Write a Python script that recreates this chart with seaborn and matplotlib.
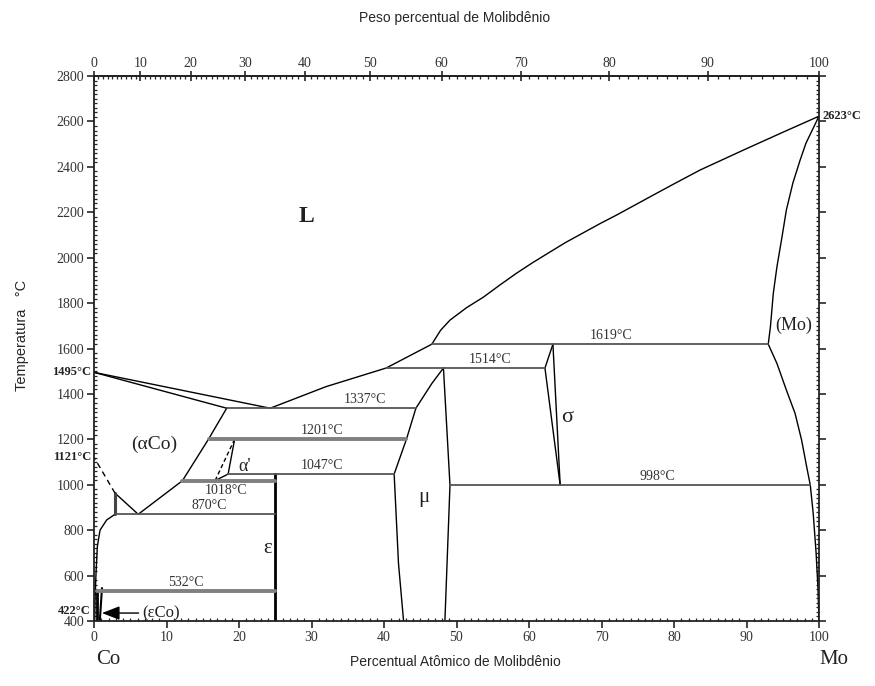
import matplotlib
matplotlib.use("Agg")
import matplotlib.pyplot as plt
import numpy as np
import pandas as pd
import seaborn as sns
from matplotlib.ticker import MultipleLocator

# Atomic masses used for the weight-percent scale on the top axis
M_CO, M_MO = 58.933, 95.95

# ---- phase boundaries (x: atomic % Mo, t: temperature in °C) ----
liq_co_x = [0, 24.3]
liq_co_t = [1495, 1337]
sol_aco_x = [0, 18.3]
sol_aco_t = [1495, 1337]
liq_mo_x = [24.3, 32.0, 40.3, 46.6, 47.8, 49.1, 51.4, 53.7, 56.0, 58.3, 60.5,
            62.9, 65.0, 67.4, 69.8, 72.1, 74.4, 76.7, 80.0, 83.6, 90.0, 95.0, 100]
liq_mo_t = [1337, 1432, 1514, 1619, 1680, 1725, 1780, 1826, 1880, 1932, 1978,
            2025, 2066, 2108, 2150, 2188, 2228, 2268, 2325, 2386, 2480, 2552, 2623]
sol_mo_x = [100, 98.2, 97.4, 96.4, 95.5, 94.9, 94.2, 93.7, 93.3, 93.0]
sol_mo_t = [2623, 2504, 2430, 2329, 2210, 2092, 1960, 1844, 1696, 1619]
solv_mo_x = [93.0, 94.2, 95.5, 96.7, 97.6, 98.3, 98.8, 99.2, 99.6, 99.85, 100]
solv_mo_t = [1619, 1534, 1417, 1314, 1197, 1079, 998, 874, 700, 550, 400]

sigma_top_x = [62.2, 63.3]
sigma_top_t = [1514, 1619]
sigma_right_x = [63.3, 64.3]
sigma_right_t = [1619, 998]
sigma_left_x = [62.2, 64.3]
sigma_left_t = [1514, 998]

mu_left_x = [48.2, 46.6, 44.4, 43.1, 41.4, 42.0, 42.7]
mu_left_t = [1514, 1446, 1337, 1201, 1047, 653, 400]
mu_right_x = [48.2, 49.1, 48.4]
mu_right_t = [1514, 998, 400]

eps_x = [25.0, 25.0]
eps_t = [1047, 400]

aco_x = [18.3, 15.8, 12.2, 6.1, 2.9]
aco_t = [1337, 1201, 1018, 870, 963]
aco_step_x = [2.9, 2.9]
aco_step_t = [963, 870]
curie_x = [2.9, 0]
curie_t = [963, 1121]

alpha_p_x = [19.4, 18.5, 16.7]
alpha_p_t = [1201, 1047, 1018]
alpha_p_left_x = [19.4, 16.7]
alpha_p_left_t = [1201, 1018]

eco_x = [2.9, 1.75, 0.83, 0.46, 0.28, 0.15, 0.1]
eco_t = [870, 845, 800, 727, 611, 500, 400]
eco_a_x = [0.4, 0.4]
eco_a_t = [532, 400]
eco_b_x = [1.1, 0.8]
eco_b_t = [545, 400]

# ---- invariant isotherms ----
iso_t = [1619, 1514, 1337, 1201, 1047, 1018, 998, 870, 532]
iso_x0 = [46.6, 40.3, 18.3, 15.8, 18.5, 12.2, 49.1, 2.9, 0.4]
iso_x1 = [93.0, 62.2, 44.4, 43.1, 41.4, 25.0, 98.8, 25.0, 25.0]
iso_lbl_x = [71.3, 54.6, 37.4, 31.4, 31.4, 18.2, 77.7, 15.9, 12.7]
iso_lbl_below = [False, False, False, False, False, True, False, False, False]
iso_thick = [False, False, False, True, False, True, False, False, True]

# ---- phase field names ----
phase_names = ["L", "(αCo)", "α'", "ε", "μ", "σ", "(Mo)"]
phase_x = [29.3, 8.3, 20.8, 24.0, 45.5, 65.2, 96.5]
phase_t = [2180, 1180, 1080, 720, 945, 1295, 1700]
phase_size = [17, 14, 13, 15, 15, 16, 13]

# temperatures of the pure elements / special points marked on the edges
edge_left_t = [1495, 1121, 445]
edge_left_lbl = ["1495°C", "1121°C", "422°C"]
edge_right_t = [2623]
edge_right_lbl = ["2623°C"]

y_ticks = list(range(400, 2801, 200))
x_ticks = list(range(0, 101, 10))
wt_ticks = list(range(0, 101, 10))

sns.set_theme(style="ticks")
plt.rcParams["font.family"] = ["Liberation Serif", "DejaVu Serif"]
plt.rcParams["axes.linewidth"] = 1.3

fig = plt.figure(figsize=(8.75, 6.86), dpi=100)
ax = fig.add_axes([94 / 875, 1 - 621 / 686, 725 / 875, 545 / 686])

def curve(xs, ts, color="black", lw=1.0, ls="-"):
    df = pd.DataFrame({"x": xs, "t": ts})
    sns.lineplot(data=df, x="x", y="t", sort=False, estimator=None,
                 color=color, lw=lw, linestyle=ls, ax=ax)

curve(liq_co_x, liq_co_t)
curve(sol_aco_x, sol_aco_t)
curve(liq_mo_x, liq_mo_t)
curve(sol_mo_x, sol_mo_t)
curve(solv_mo_x, solv_mo_t)
curve(sigma_top_x, sigma_top_t)
curve(sigma_right_x, sigma_right_t)
curve(sigma_left_x, sigma_left_t)
curve(mu_left_x, mu_left_t)
curve(mu_right_x, mu_right_t)
curve(eps_x, eps_t, lw=2.0)
curve(aco_x, aco_t)
curve(aco_step_x, aco_step_t, lw=2.2, color="#444444")
curve(curie_x, curie_t, ls=(0, (4, 3)))
curve(alpha_p_x, alpha_p_t)
curve(alpha_p_left_x, alpha_p_left_t, ls=(0, (3, 2)))
curve(eco_x, eco_t)
curve(eco_a_x, eco_a_t, lw=2.0)
curve(eco_b_x, eco_b_t, lw=1.5)

for t, x0, x1, lx, below, thick in zip(iso_t, iso_x0, iso_x1, iso_lbl_x,
                                        iso_lbl_below, iso_thick):
    if thick:
        curve([x0, x1], [t, t], color="#808080", lw=2.8)
    else:
        curve([x0, x1], [t, t], color="#555555", lw=1.3)
    ax.text(lx, t - 14 if below else t + 10, f"{t}°C", ha="center",
            va="top" if below else "bottom", fontsize=10, color="#333333")

for name, x, t, s in zip(phase_names, phase_x, phase_t, phase_size):
    ax.text(x, t, name, ha="center", va="center", fontsize=s, color="#222222",
            fontweight="bold" if name == "L" else "normal")

# (εCo) pointer
ax.annotate("(εCo)", xy=(1.1, 435), xytext=(6.6, 435), ha="left", va="center",
            fontsize=12, color="#222222",
            arrowprops=dict(arrowstyle="-|>,head_length=0.9,head_width=0.35",
                            color="black", lw=1.0, shrinkA=0, shrinkB=0))

for t, lbl in zip(edge_left_t, edge_left_lbl):
    ax.text(-0.4, t, lbl, ha="right", va="center", fontsize=9,
            fontweight="bold", color="#222222")
for t, lbl in zip(edge_right_t, edge_right_lbl):
    ax.text(100.5, t, lbl, ha="left", va="center", fontsize=9,
            fontweight="bold", color="#222222")

ax.set_xlim(0, 100)
ax.set_ylim(400, 2800)
ax.set_xticks(x_ticks)
ax.set_yticks(y_ticks)
ax.xaxis.set_minor_locator(MultipleLocator(1))
ax.yaxis.set_minor_locator(MultipleLocator(20))
ax.tick_params(which="major", direction="out", length=5, width=1.2,
               labelsize=10, labelcolor="#333333", pad=2,
               right=True, top=False)
ax.tick_params(which="minor", direction="in", length=2.5, width=0.9,
               right=True, top=False)
ax.set_xlabel("")
ax.set_ylabel("")
for s in ax.spines.values():
    s.set_color("#222222")

def at_to_wt(a):
    a = np.asarray(a, dtype=float)
    return 100 * a * M_MO / (a * M_MO + (100 - a) * M_CO)

def wt_to_at(w):
    w = np.asarray(w, dtype=float)
    return 100 * (w / M_MO) / (w / M_MO + (100 - w) / M_CO)

top = ax.secondary_xaxis("top", functions=(at_to_wt, wt_to_at))
top.set_xticks(wt_ticks)
top.xaxis.set_minor_locator(MultipleLocator(1))
top.tick_params(which="major", direction="inout", length=7, width=1.2,
                labelsize=10, labelcolor="#333333", pad=1)
top.tick_params(which="minor", direction="in", length=2.5, width=0.9)

sans = ["Liberation Sans", "DejaVu Sans"]
fig.text(455 / 875, 1 - 18 / 686, "Peso percentual de Molibdênio", ha="center",
         va="center", fontsize=10, family=sans)
fig.text(455 / 875, 1 - 662 / 686, "Percentual Atômico de Molibdênio",
         ha="center", va="center", fontsize=10, family=sans)
fig.text(22 / 875, 1 - 335 / 686, "Temperatura   °C", ha="center",
         va="center", rotation=90, fontsize=10.5, family=sans)
fig.text(108 / 875, 1 - 660 / 686, "Co", ha="center", va="center",
         fontsize=15, color="#222222")
fig.text(834 / 875, 1 - 660 / 686, "Mo", ha="center", va="center",
         fontsize=15, color="#222222")

fig.savefig("out.png", dpi=100, facecolor="white")
